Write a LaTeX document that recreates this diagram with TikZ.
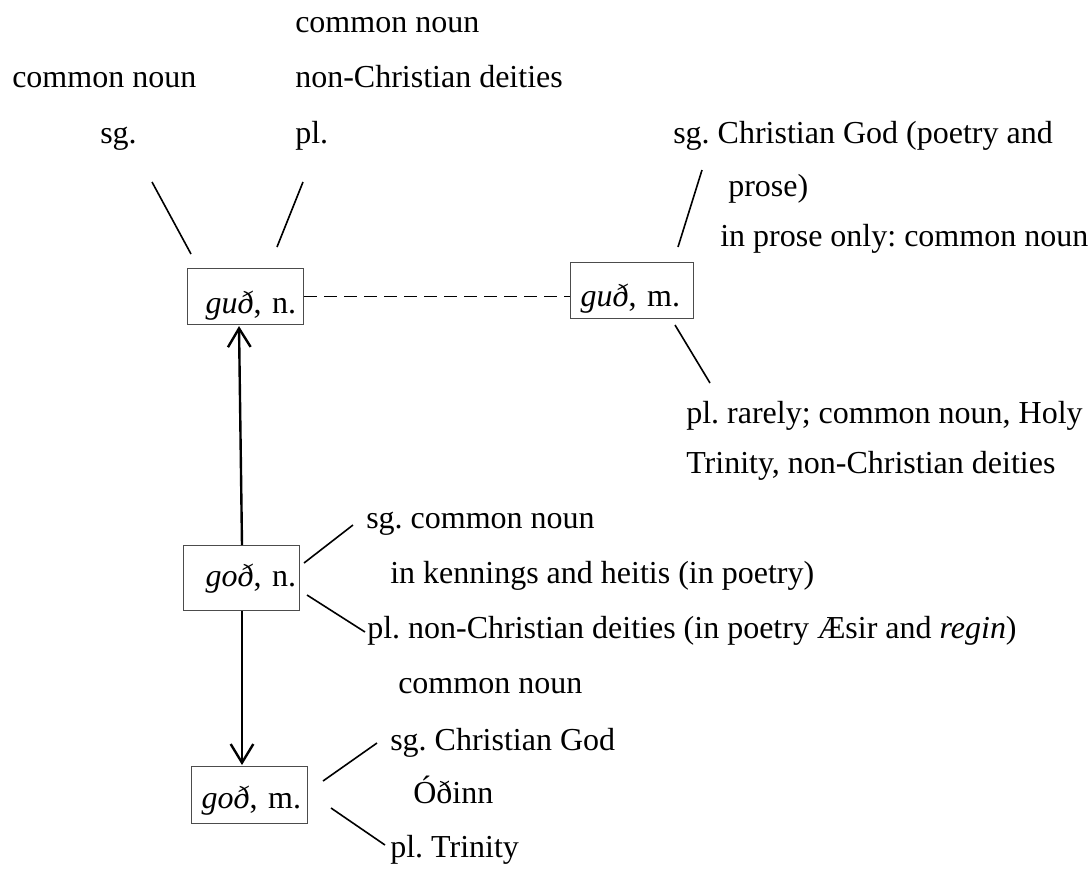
\documentclass[tikz,border=0pt]{standalone}
\usepackage{fontspec}
\setmainfont{Liberation Serif}
\usetikzlibrary{arrows.meta,calc}
\frenchspacing
\begin{document}
\begin{tikzpicture}[x=0.75pt,y=-0.75pt,
  every node/.style={font=\fontsize{24pt}{28pt}\selectfont\frenchspacing},
  lbl/.style={anchor=base west, inner sep=0pt},
  entry/.style={draw=black!70, line width=0.8pt, anchor=north west,
    inner sep=0pt, align=left},
  tie/.style={line width=1.2pt},
  arr/.style={line width=1.8pt, -{Straight Barb[length=14pt,width=17pt]}},
  link/.style={line width=1.1pt, dash pattern=on 10pt off 5pt}]
\useasboundingbox (0,0) rectangle (1088,868);

% headword boxes
\node[entry, text width=87pt, text height=33.75pt, text depth=8.25pt]
  (gudn) at (187,268) {\hspace*{13.5pt}\textit{guð}, n.};
\node[entry, text width=92.25pt, text height=33pt, text depth=9pt]
  (gudm) at (570,262) {\hspace*{7.5pt}\textit{guð}, m.};
\node[entry, text width=87pt, text height=30.75pt, text depth=18pt]
  (godn) at (183,545) {\hspace*{16.5pt}\textit{goð}, n.};
\node[entry, text width=87pt, text height=31.5pt, text depth=11.25pt]
  (godm) at (191,766) {\hspace*{7.5pt}\textit{goð}, m.};

% senses of gu\dh, n.
\node[lbl] (gn1) at (295,32) {common noun};
\node[lbl] (gn2) at (12,87) {common noun};
\node[lbl] (gn3) at (295,87) {non-Christian deities};
\node[lbl] (gn4) at (100,143) {sg.};
\node[lbl] (gn5) at (295,143) {pl.};

% senses of gu\dh, m.
\node[lbl] (gm1) at (673,143) {sg. Christian God (poetry and};
\node[lbl] (gm2) at (728,196) {prose)};
\node[lbl] (gm3) at (720,246) {in prose only: common noun};
\node[lbl] (gm4) at (686,423) {pl. rarely; common noun, Holy};
\node[lbl] (gm5) at (686,473) {Trinity, non-Christian deities};

% senses of go\dh, n.
\node[lbl] (on1) at (366,528) {sg. common noun};
\node[lbl] (on2) at (390,583) {in kennings and heitis (in poetry)};
\node[lbl] (on3) at (367,638) {pl. non-Christian deities (in poetry Æsir and \textit{regin})};
\node[lbl] (on4) at (398,693) {common noun};

% senses of go\dh, m.
\node[lbl] (om1) at (390,750) {sg. Christian God};
\node[lbl] (om2) at (413,803) {Óðinn};
\node[lbl] (om3) at (390,857) {pl. Trinity};

% short ticks from each box towards its senses
\coordinate (a1) at ($(gudn.north west)+(-35,-86)$);
\coordinate (a2) at ($(gudn.north west)+(4,-14)$);
\coordinate (b1) at ($(gudn.north west)+(116,-86)$);
\coordinate (b2) at ($(gudn.north west)+(90,-21)$);
\coordinate (c1) at ($(gudm.north west)+(132,-92)$);
\coordinate (c2) at ($(gudm.north west)+(108,-15)$);
\coordinate (d1) at ($(gudm.north west)+(105,63)$);
\coordinate (d2) at ($(gudm.north west)+(140,121)$);
\coordinate (e1) at ($(godn.north west)+(121,18)$);
\coordinate (e2) at ($(godn.north west)+(170,-20)$);
\coordinate (f1) at ($(godn.north west)+(124,50)$);
\coordinate (f2) at ($(godn.north west)+(182,87)$);
\coordinate (g1) at ($(godm.north west)+(132,15)$);
\coordinate (g2) at ($(godm.north west)+(186,-23)$);
\coordinate (h1) at ($(godm.north west)+(140,42)$);
\coordinate (h2) at ($(godm.north west)+(194,79)$);
\foreach \p/\q in {a1/a2,b1/b2,c1/c2,d1/d2,e1/e2,f1/f2,g1/g2,h1/h2}
  \draw[tie] (\p) -- (\q);

% relations between the headwords
\draw[link] (gudn.east) -- (gudn.east -| gudm.west);
\draw[arr] ($(godn.north west)+(59,0)$) -- ($(gudn.south west)+(52,1)$);
\draw[arr] ($(godn.south west)+(59,0)$) -- ($(godm.north west)+(51,-1)$);
\end{tikzpicture}
\end{document}
